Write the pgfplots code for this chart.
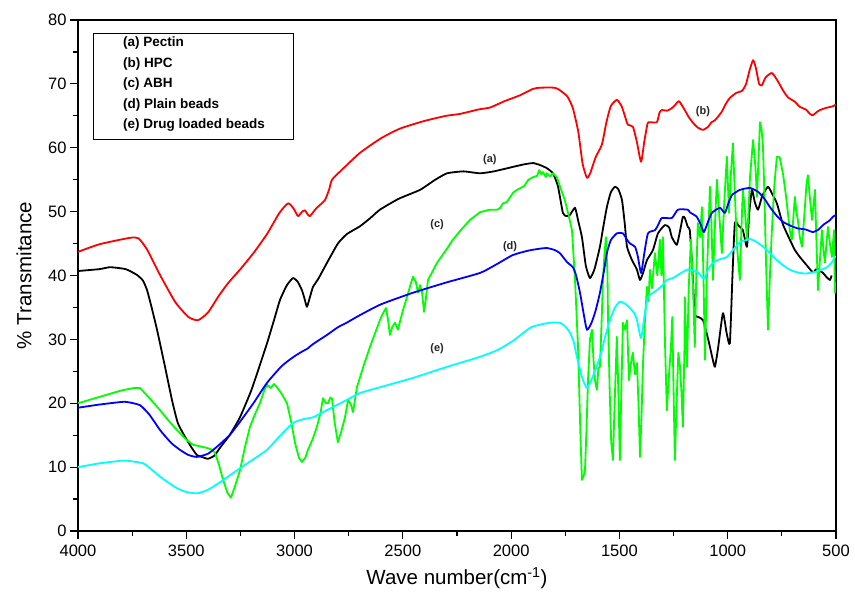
\documentclass[border=0pt]{standalone}
\usepackage{fontspec}
\setmainfont{Liberation Sans}
\usepackage{pgfplots}
\pgfplotsset{compat=1.18}
\definecolor{cyn}{RGB}{0,255,255}
\definecolor{grn}{RGB}{0,255,0}
\definecolor{rd}{RGB}{255,0,0}
\definecolor{bl}{RGB}{0,0,255}
\begin{document}
\begin{tikzpicture}
\path[use as bounding box] (-78pt,-66pt) rectangle (777pt,531pt);
\begin{axis}[
  at={(0pt,0pt)}, anchor=south west,
  scale only axis, width=758pt, height=511pt,
  xmin=500, xmax=4000, ymin=0, ymax=80,
  x dir=reverse,
  xtick={500,1000,...,4000}, ytick={0,10,...,80},
  minor x tick num=1, minor y tick num=1,
  xtick pos=lower, ytick pos=left,
  tick align=outside,
  major tick length=8pt, minor tick length=5pt,
  every tick/.style={line width=1.2pt, black},
  axis line style={line width=1.6pt},
  /pgf/number format/assume math mode=true,
  /pgf/number format/set thousands separator={},
  tick label style={font=\fontsize{16.5}{16.5}\selectfont},
  xticklabel style={yshift=-2pt},
  xlabel={Wave number(cm\textsuperscript{-1})},
  ylabel={\% Transmitance},
  label style={font=\fontsize{20.5}{20.5}\selectfont},
  xlabel style={at={(axis description cs:0.5,-0.092)}, anchor=center},
  ylabel style={at={(axis description cs:-0.071,0.5)}, anchor=center},
  clip=true,
  every axis plot/.append style={line width=1.8pt, line join=round},
]
% (b) HPC
\addplot[rd, smooth, tension=0.35] coordinates {
(4000,43.7)(3900,44.9)(3760,45.9)(3720,45.8)(3680,44.0)(3620,40.0)(3550,35.8)(3490,33.5)(3446,33.0)(3400,34.2)(3350,36.8)(3307,38.8)(3250,41.0)(3190,43.5)(3127,46.5)(3070,49.8)(3030,51.3)(3005,50.5)(2984,49.3)(2965,50.0)(2952,50.2)(2940,49.6)(2929,49.3)(2900,50.5)(2860,51.8)(2840,53.5)(2827,55.0)(2780,56.6)(2698,59.2)(2600,61.5)(2513,63.0)(2400,64.2)(2300,65.0)(2236,65.3)(2150,66.0)(2097,66.3)(2030,67.3)(1960,68.2)(1900,69.2)(1867,69.4)(1800,69.4)(1775,69.0)(1740,68.0)(1715,66.2)(1690,62.5)(1670,57.5)(1650,55.3)(1635,56.0)(1610,58.5)(1581,60.5)(1560,64.0)(1540,66.5)(1512,67.5)(1490,66.5)(1475,65.0)(1461,63.6)(1438,63.3)(1420,61.0)(1400,57.8)(1385,61.0)(1370,63.8)(1359,64.0)(1327,64.0)(1315,65.5)(1304,65.9)(1280,65.8)(1258,66.2)(1240,66.8)(1225,67.3)(1200,66.0)(1180,64.8)(1160,63.9)(1140,63.2)(1114,62.8)(1090,63.3)(1075,64.0)(1059,64.3)(1030,65.5)(1010,66.8)(990,67.8)(960,68.6)(934,68.9)(915,70.0)(900,72.0)(883,73.7)(870,72.5)(855,70.0)(842,69.8)(825,71.0)(796,71.7)(770,70.5)(745,69.0)(722,67.9)(690,67.2)(667,66.4)(640,66.0)(620,65.3)(607,65.1)(580,65.8)(550,66.2)(514,66.5)(500,66.8)
};
% (a) Pectin
\addplot[black, smooth, tension=0.3] coordinates {
(4000,40.7)(3900,41.0)(3852,41.3)(3780,41.0)(3728,40.1)(3700,39.2)(3681,37.7)(3660,35.0)(3635,31.5)(3600,26.0)(3566,20.5)(3540,17.0)(3515,15.3)(3480,13.3)(3451,11.9)(3420,11.5)(3400,11.3)(3370,11.8)(3345,13.0)(3300,15.0)(3252,17.8)(3200,22.0)(3160,26.0)(3127,29.4)(3095,33.0)(3067,36.2)(3035,38.5)(3007,39.6)(2985,39.0)(2966,37.7)(2955,36.5)(2943,35.1)(2930,36.5)(2915,38.2)(2890,39.5)(2850,42.0)(2800,45.0)(2758,46.5)(2698,47.7)(2650,49.0)(2606,50.3)(2520,52.0)(2421,53.4)(2350,55.0)(2296,56.0)(2220,56.3)(2144,56.0)(2080,56.3)(1992,57.0)(1940,57.4)(1899,57.6)(1867,57.3)(1835,56.8)(1807,56.0)(1784,54.0)(1761,49.8)(1745,49.3)(1728,49.5)(1705,50.6)(1690,48.5)(1673,46.0)(1655,41.5)(1636,39.6)(1615,41.0)(1590,44.5)(1575,47.5)(1558,50.7)(1540,53.0)(1521,53.9)(1505,53.5)(1488,51.8)(1475,48.0)(1465,44.5)(1442,42.4)(1420,41.0)(1405,39.3)(1390,40.5)(1373,42.4)(1345,44.0)(1322,46.6)(1290,47.9)(1270,47.5)(1258,46.0)(1235,44.8)(1220,47.0)(1207,49.2)(1198,49.0)(1184,47.6)(1175,47.1)(1165,42.0)(1152,34.1)(1135,33.5)(1114,33.0)(1090,30.0)(1070,27.0)(1059,25.7)(1045,28.5)(1022,34.1)(1005,31.0)(990,29.4)(978,40.0)(967,48.2)(950,47.8)(930,47.1)(911,44.5)(900,50.0)(888,53.4)(875,51.5)(860,50.3)(840,52.5)(814,53.9)(795,52.8)(773,51.3)(745,48.0)(713,45.6)(690,44.0)(667,42.9)(640,41.8)(607,40.5)(590,41.0)(560,40.4)(545,39.8)(528,39.3)(520,40.0)
};
% (c) ABH
\addplot[grn] coordinates {
(4000,20.0)(3900,21.0)(3800,22.0)(3740,22.4)(3714,22.4)(3670,20.8)(3621,18.9)(3580,17.2)(3543,15.8)(3500,14.3)(3469,13.5)(3430,13.2)(3404,13.0)(3380,12.7)(3367,12.2)(3350,10.5)(3330,8.0)(3310,6.0)(3294,5.2)(3275,7.0)(3252,9.5)(3230,13.0)(3206,16.3)(3180,18.5)(3160,20.0)(3140,22.0)(3127,22.9)(3110,22.4)(3095,23.0)(3081,22.5)(3060,21.5)(3035,20.0)(3015,17.0)(2998,13.8)(2980,11.5)(2966,10.8)(2950,11.5)(2938,12.7)(2915,14.5)(2897,16.3)(2880,18.5)(2869,20.8)(2855,20.0)(2846,20.0)(2835,20.9)(2827,20.7)(2815,17.0)(2800,13.9)(2785,15.5)(2767,17.8)(2753,20.5)(2740,19.8)(2730,18.6)(2712,22.5)(2680,26.0)(2652,28.8)(2630,30.8)(2606,33.0)(2590,34.2)(2578,34.9)(2568,33.0)(2560,30.7)(2548,32.0)(2536,32.6)(2523,31.5)(2500,34.5)(2481,36.6)(2465,38.5)(2453,39.8)(2440,39.0)(2430,37.3)(2421,38.5)(2412,37.5)(2402,34.3)(2395,36.0)(2384,39.3)(2365,40.5)(2342,42.0)(2300,44.0)(2269,45.6)(2230,47.2)(2190,48.7)(2144,49.9)(2100,50.3)(2065,50.3)(2050,50.6)(2038,51.3)(2020,51.5)(1990,53.0)(1973,53.4)(1940,54.0)(1920,55.0)(1899,55.4)(1880,55.6)(1870,56.5)(1860,55.8)(1853,56.2)(1840,55.4)(1835,56.0)(1820,55.5)(1807,56.0)(1789,55.4)(1770,53.5)(1752,51.8)(1735,49.5)(1719,47.1)(1705,39.3)(1691,28.8)(1680,15.0)(1673,8.0)(1666,8.5)(1659,9.5)(1652,16.0)(1645,23.6)(1636,30.0)(1627,31.5)(1620,27.0)(1613,23.6)(1604,22.1)(1597,25.5)(1590,25.7)(1583,32.0)(1576,39.3)(1569,43.5)(1562,46.0)(1555,40.0)(1553,34.1)(1545,22.0)(1538,14.0)(1530,11.1)(1522,20.0)(1512,30.4)(1505,22.0)(1498,11.1)(1491,22.0)(1484,32.6)(1475,31.5)(1465,33.0)(1456,23.6)(1448,26.0)(1438,27.9)(1428,24.5)(1419,26.3)(1412,20.0)(1405,11.6)(1398,18.0)(1391,26.3)(1382,33.0)(1373,38.2)(1366,36.0)(1359,40.9)(1350,38.0)(1336,43.5)(1325,40.0)(1313,45.6)(1306,40.0)(1299,46.0)(1290,30.0)(1281,18.9)(1270,25.0)(1262,28.8)(1256,33.5)(1250,22.0)(1244,11.1)(1236,20.0)(1228,27.9)(1221,26.0)(1214,22.0)(1207,16.3)(1200,28.0)(1198,36.6)(1192,30.0)(1188,25.7)(1180,38.0)(1170,45.6)(1160,38.0)(1152,28.8)(1145,40.0)(1138,48.2)(1128,46.0)(1119,50.7)(1112,40.0)(1105,26.8)(1096,40.0)(1082,53.9)(1075,48.0)(1068,39.3)(1060,47.0)(1050,55.0)(1040,50.0)(1027,43.5)(1015,52.0)(1004,58.6)(994,49.8)(985,56.0)(976,60.7)(966,52.0)(957,44.5)(944,39.3)(937,47.0)(930,53.4)(920,50.0)(911,45.6)(904,50.0)(897,55.4)(883,61.2)(872,57.0)(865,52.3)(858,58.0)(851,64.0)(844,63.0)(837,60.1)(830,52.0)(823,42.0)(814,31.5)(805,40.0)(796,47.1)(785,54.0)(773,58.6)(760,58.5)(745,56.0)(733,53.0)(722,49.8)(713,47.0)(704,45.6)(697,49.0)(690,52.3)(683,50.0)(676,48.7)(667,46.0)(657,44.5)(645,50.0)(637,54.0)(630,55.7)(620,52.0)(611,48.7)(604,51.0)(597,53.4)(590,45.0)(583,37.7)(575,42.0)(565,47.1)(558,44.0)(551,42.0)(544,45.0)(537,47.6)(528,45.0)(519,42.9)(514,45.0)(509,47.1)(505,37.3)(500,39.0)
};
% (d) Plain beads
\addplot[bl, smooth, tension=0.35] coordinates {
(4000,19.3)(3900,19.8)(3800,20.2)(3774,20.2)(3714,19.7)(3670,18.2)(3621,15.8)(3570,13.8)(3529,12.7)(3490,11.9)(3451,11.6)(3400,12.1)(3358,13.2)(3300,15.0)(3252,17.1)(3190,20.0)(3127,23.2)(3060,25.8)(3007,27.2)(2970,28.0)(2938,28.6)(2925,29.0)(2900,29.6)(2850,30.7)(2800,31.9)(2760,32.6)(2698,33.8)(2600,35.5)(2453,37.3)(2300,38.9)(2144,40.4)(2065,41.8)(1992,43.2)(1920,43.9)(1867,44.2)(1835,44.3)(1800,44.0)(1775,43.5)(1742,42.1)(1715,41.3)(1700,40.0)(1682,37.3)(1665,34.0)(1650,31.5)(1630,32.5)(1610,34.5)(1590,37.3)(1570,41.0)(1558,43.5)(1540,45.5)(1512,46.6)(1484,46.6)(1465,45.6)(1451,45.0)(1428,44.5)(1415,43.0)(1400,40.4)(1385,43.5)(1368,46.6)(1336,47.1)(1320,48.0)(1304,49.0)(1258,49.0)(1230,50.3)(1184,50.3)(1175,49.9)(1143,49.2)(1125,48.0)(1110,46.8)(1090,48.5)(1073,49.8)(1036,50.6)(1013,49.8)(995,51.5)(980,52.6)(944,53.4)(897,53.7)(860,53.1)(830,52.0)(805,50.7)(775,49.4)(745,48.4)(710,47.8)(680,47.4)(640,47.2)(607,46.8)(580,47.2)(560,47.9)(530,48.6)(514,49.2)(500,49.5)
};
% (e) Drug loaded beads
\addplot[cyn, smooth, tension=0.35] coordinates {
(4000,10.0)(3900,10.6)(3800,11.0)(3774,11.0)(3700,10.6)(3660,9.6)(3621,8.5)(3580,7.5)(3543,6.7)(3500,6.1)(3451,5.9)(3410,6.3)(3377,6.9)(3320,8.2)(3266,9.5)(3200,11.0)(3127,12.7)(3070,14.8)(3007,16.9)(2960,17.5)(2915,17.8)(2880,18.4)(2823,19.4)(2760,20.5)(2698,21.6)(2606,22.5)(2450,24.0)(2296,25.7)(2150,27.2)(2065,28.3)(1990,29.8)(1913,31.8)(1867,32.3)(1821,32.6)(1775,32.6)(1750,32.0)(1728,31.0)(1710,29.5)(1696,27.2)(1672,24.0)(1650,22.4)(1625,24.0)(1590,27.2)(1565,30.5)(1544,33.0)(1520,35.0)(1498,35.9)(1475,35.6)(1451,34.9)(1430,34.0)(1419,33.0)(1400,30.2)(1385,33.5)(1368,36.6)(1327,37.7)(1300,38.5)(1281,39.3)(1253,39.6)(1220,40.3)(1188,40.9)(1175,40.9)(1138,40.5)(1110,39.5)(1090,41.0)(1068,42.0)(1040,42.5)(1004,42.9)(970,44.2)(944,45.2)(897,45.7)(870,45.3)(837,44.5)(805,43.5)(773,42.4)(745,41.6)(713,40.9)(690,40.6)(667,40.4)(640,40.3)(607,40.5)(575,40.8)(542,41.3)(520,42.0)(505,42.9)(500,43.0)
};
% curve labels
\node[font=\fontsize{11}{11}\selectfont\bfseries, text=black!85] at (axis cs:2098,58.2) {(a)};
\node[font=\fontsize{11}{11}\selectfont\bfseries, text=black!85] at (axis cs:1114,65.7) {(b)};
\node[font=\fontsize{11}{11}\selectfont\bfseries, text=black!85] at (axis cs:2342,47.9) {(c)};
\node[font=\fontsize{11}{11}\selectfont\bfseries, text=black!85] at (axis cs:2005,44.5) {(d)};
\node[font=\fontsize{11}{11}\selectfont\bfseries, text=black!85] at (axis cs:2342,28.5) {(e)};
% legend box
\draw[line width=0.8pt] (rel axis cs:0.0198,0.9746) rectangle (rel axis cs:0.2836,0.7671);
\node[anchor=north west, align=left, inner sep=0pt, font=\fontsize{13.5}{20.5}\selectfont\bfseries]
  at (rel axis cs:0.0594,0.9668) {(a) Pectin\\(b) HPC\\(c) ABH\\(d) Plain beads\\(e) Drug loaded beads};
\end{axis}
\end{tikzpicture}
\end{document}
